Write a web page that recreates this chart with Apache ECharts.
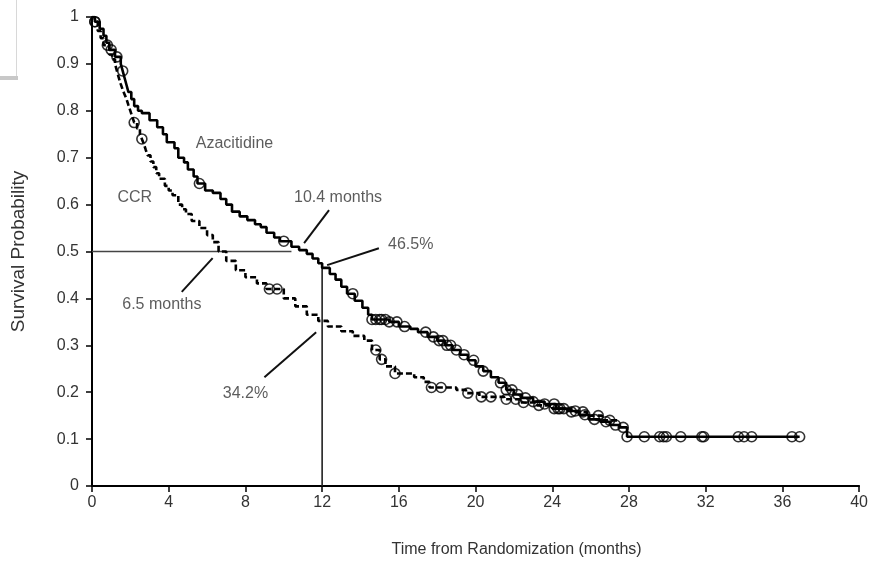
<!DOCTYPE html>
<html>
<head>
<meta charset="utf-8">
<script src="https://cdn.jsdelivr.net/npm/echarts@6/dist/echarts.min.js"></script>
<style>
  html, body { margin: 0; padding: 0; background: #fff; }
  #km-chart { width: 871px; height: 563px; }
</style>
</head>
<body>
<div id="km-chart"></div>
<script>
// Kaplan-Meier steps: [month, survival after the event]
const azaSteps = [
  [0, 1], [0.15, 0.99], [0.4, 0.975], [0.6, 0.96], [0.75, 0.945], [0.9, 0.93], [1.2, 0.915],
  [1.5, 0.9], [1.6, 0.885], [1.7, 0.87], [1.8, 0.855], [1.9, 0.84], [2.05, 0.825],
  [2.2, 0.81], [2.4, 0.8], [2.6, 0.795], [3.0, 0.78], [3.4, 0.765], [3.7, 0.75], [3.9, 0.733],
  [4.3, 0.72], [4.5, 0.7], [4.8, 0.69], [5.0, 0.675], [5.3, 0.66], [5.5, 0.645],
  [5.9, 0.63], [6.3, 0.625], [6.7, 0.612], [7.0, 0.6], [7.3, 0.585], [7.7, 0.575],
  [8.1, 0.567], [8.5, 0.558], [8.8, 0.552], [9.1, 0.54], [9.5, 0.53], [9.8, 0.522],
  [10.4, 0.51], [10.8, 0.503], [11.2, 0.495], [11.5, 0.485], [11.8, 0.475], [12.0, 0.465],
  [12.4, 0.452], [12.7, 0.44], [13.0, 0.425], [13.3, 0.41], [13.7, 0.395], [14.1, 0.38],
  [14.4, 0.365], [14.6, 0.355], [15.5, 0.35], [16.0, 0.34], [16.6, 0.335], [17.0, 0.328],
  [17.5, 0.318], [18.0, 0.31], [18.4, 0.3], [18.8, 0.29], [19.2, 0.28], [19.6, 0.268],
  [20.0, 0.255], [20.4, 0.245], [20.8, 0.232], [21.2, 0.22], [21.6, 0.205], [22.0, 0.195],
  [22.4, 0.188], [23.0, 0.18], [23.6, 0.175], [24.2, 0.165], [24.8, 0.16], [25.4, 0.152],
  [25.9, 0.142], [26.5, 0.137], [27.0, 0.13], [27.5, 0.125], [27.9, 0.105], [36.9, 0.105]
];
const ccrSteps = [
  [0, 1], [0.15, 0.99], [0.3, 0.97], [0.45, 0.955], [0.6, 0.94], [0.9, 0.92], [1.05, 0.91],
  [1.2, 0.9], [1.3, 0.885], [1.4, 0.87], [1.5, 0.857], [1.6, 0.845], [1.7, 0.835],
  [1.8, 0.825], [1.9, 0.812], [2.0, 0.8], [2.1, 0.787], [2.2, 0.775], [2.35, 0.762],
  [2.5, 0.75], [2.6, 0.74], [2.7, 0.73], [2.8, 0.717], [2.9, 0.705], [3.05, 0.692],
  [3.2, 0.68], [3.35, 0.667], [3.5, 0.655], [3.8, 0.64], [4.0, 0.63], [4.2, 0.62],
  [4.5, 0.6], [4.7, 0.59], [4.9, 0.58], [5.2, 0.565], [5.6, 0.55], [6.0, 0.535],
  [6.3, 0.52], [6.6, 0.5], [7.0, 0.48], [7.5, 0.46], [8.0, 0.445], [8.6, 0.432],
  [9.1, 0.42], [10.0, 0.4], [10.6, 0.383], [11.2, 0.365], [11.8, 0.352], [12.3, 0.34],
  [13.0, 0.33], [13.6, 0.32], [14.2, 0.31], [14.6, 0.29], [15.0, 0.27], [15.3, 0.255],
  [15.8, 0.24], [16.8, 0.232], [17.3, 0.222], [17.6, 0.21], [19.0, 0.205], [19.5, 0.198],
  [20.2, 0.19], [21.5, 0.185], [22.3, 0.178], [23.2, 0.172], [24.0, 0.165], [25.0, 0.158],
  [25.8, 0.15], [26.6, 0.14], [27.4, 0.135]
];
// censoring times (months); marks sit on the curve
const azaCensored = [
  0.15, 1.0, 1.3, 1.6, 5.6, 10.0, 13.6, 14.6, 14.8, 15.0, 15.1, 15.3, 15.5, 15.9, 16.3,
  17.4, 17.8, 18.1, 18.3, 18.5, 18.7, 19.0, 19.4, 19.9, 20.4, 21.3, 21.6, 21.9, 22.2,
  22.6, 23.0, 23.6, 24.1, 24.3, 24.6, 25.2, 25.7, 26.2, 26.8, 27.3, 27.7, 27.9, 28.8,
  29.6, 29.8, 29.95, 30.7, 31.8, 31.9, 33.7, 34.0, 34.4, 36.5, 36.9
];
const ccrCensored = [
  0.15, 0.8, 2.2, 2.6, 9.25, 9.65, 14.8, 15.1, 15.8, 17.7, 18.2, 19.6, 20.3, 20.8,
  21.6, 22.1, 22.5, 23.3, 24.1, 24.4, 25.0, 25.6, 26.4, 27.0
];
// median / 12-month reference lines
const medianLine = [[0, 0.5], [10.4, 0.5]];
const landmarkLine = [[12, 0], [12, 0.465]];
// annotation texts and their leader lines
const noteTexts = ['Azacitidine', 'CCR', '10.4 months', '46.5%', '6.5 months', '34.2%'];
const notePos = [[7.43, 0.731], [2.23, 0.616], [12.83, 0.616], [16.62, 0.514], [3.64, 0.386], [8.0, 0.198]];
const leaders = [
  [[12.36, 0.588], [11.06, 0.518]],
  [[14.96, 0.507], [12.26, 0.471]],
  [[6.29, 0.486], [4.68, 0.414]],
  [[11.69, 0.328], [8.99, 0.232]]
];

const stepValue = (steps, t) => {
  let v = steps[0][1];
  for (const [x, y] of steps) {
    if (x <= t) v = y; else break;
  }
  return v;
};

const font = 'Liberation Sans, Arial, sans-serif';
const chart = echarts.init(document.getElementById('km-chart'));

const censorSeries = (times, steps) => ({
  type: 'scatter',
  symbol: 'circle',
  symbolSize: 10,
  itemStyle: { color: 'rgba(0,0,0,0)', borderColor: '#000', borderWidth: 1.6 },
  data: times.map(t => [t, stepValue(steps, t)]),
  z: 5,
  silent: true
});

chart.setOption({
  animation: false,
  grid: { left: 92, right: 9, top: 17, bottom: 77 },
  xAxis: {
    type: 'value', min: 0, max: 40, interval: 4,
    name: 'Time from Randomization (months)',
    nameLocation: 'middle', nameGap: 56,
    nameTextStyle: { fontFamily: font, fontSize: 16, color: '#333', padding: [0, 0, 0, 82] },
    axisLine: { lineStyle: { color: '#000', width: 2 } },
    axisTick: { length: 6, lineStyle: { color: '#000', width: 1.5 } },
    axisLabel: { fontFamily: font, fontSize: 16, color: '#333', margin: 9 },
    splitLine: { show: false }
  },
  yAxis: {
    type: 'value', min: 0, max: 1, interval: 0.1,
    name: 'Survival Probability',
    nameLocation: 'middle', nameGap: 64,
    nameTextStyle: { fontFamily: font, fontSize: 19, color: '#333' },
    axisLine: { show: true, lineStyle: { color: '#000', width: 2 } },
    axisTick: { show: true, length: 6, lineStyle: { color: '#000', width: 1.5 } },
    axisLabel: { fontFamily: font, fontSize: 16, color: '#333', margin: 13 },
    splitLine: { show: false }
  },
  graphic: [
    { type: 'line', shape: { x1: 16.5, y1: 0, x2: 16.5, y2: 77 }, style: { stroke: '#d8d8d8', lineWidth: 1 } },
    { type: 'rect', shape: { x: 0, y: 76, width: 18, height: 4 }, style: { fill: '#c8c8c8' } }
  ],
  series: [
    {
      type: 'line', data: medianLine, symbol: 'none', silent: true,
      lineStyle: { color: '#444', width: 1.6 }, z: 1
    },
    {
      type: 'line', data: landmarkLine, symbol: 'none', silent: true,
      lineStyle: { color: '#222', width: 1.6 }, z: 1
    },
    ...leaders.map(seg => ({
      type: 'line', data: seg, symbol: 'none', silent: true,
      lineStyle: { color: '#111', width: 2 }, z: 2
    })),
    {
      name: 'Azacitidine', type: 'line', step: 'end', data: azaSteps, symbol: 'none',
      lineStyle: { color: '#000', width: 2.6 }, z: 4
    },
    {
      name: 'CCR', type: 'line', step: 'end', data: ccrSteps, symbol: 'none',
      lineStyle: { color: '#000', width: 2.6, type: [6, 3] }, z: 4
    },
    censorSeries(azaCensored, azaSteps),
    censorSeries(ccrCensored, ccrSteps),
    {
      type: 'scatter', symbolSize: 0, silent: true, z: 6,
      data: notePos.map((p, i) => ({ value: p, name: noteTexts[i] })),
      label: {
        show: true, position: 'inside', formatter: '{b}',
        fontFamily: font, fontSize: 16, color: '#333'
      }
    }
  ]
});
</script>
</body>
</html>
